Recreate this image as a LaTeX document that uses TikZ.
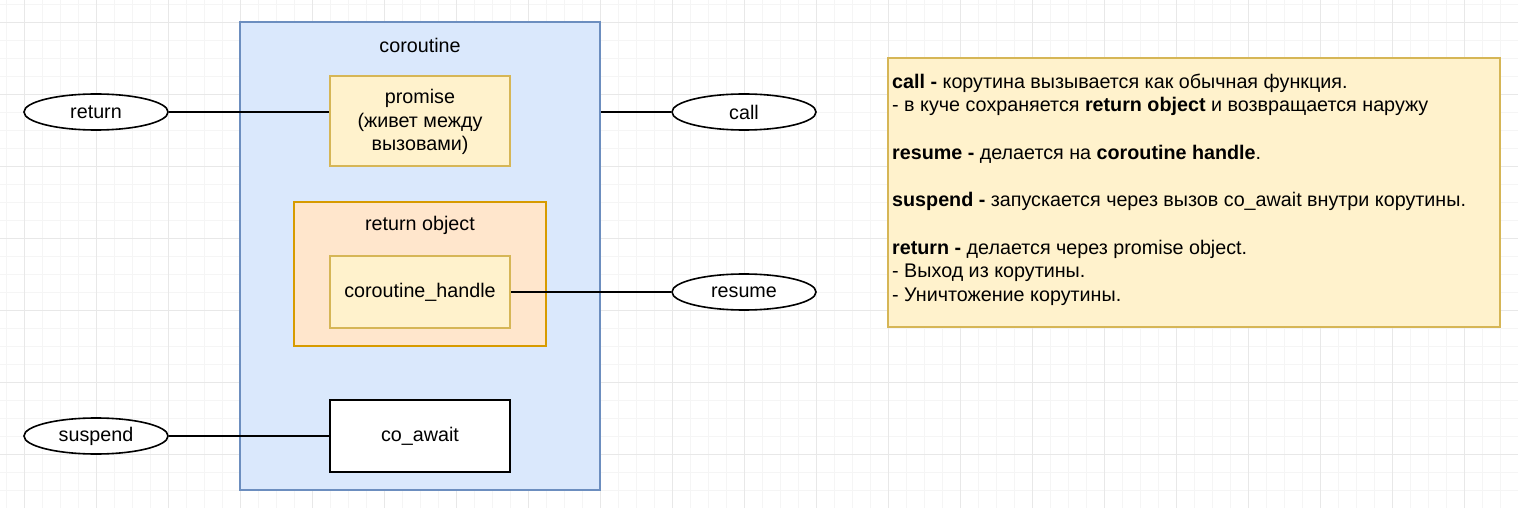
\documentclass[tikz,border=0pt]{standalone}
\usepackage{fontspec}
\setmainfont{Liberation Sans}
\usetikzlibrary{shapes.geometric}
\definecolor{bluefill}{HTML}{DAE8FC}
\definecolor{bluedraw}{HTML}{6C8EBF}
\definecolor{yelfill}{HTML}{FFF2CC}
\definecolor{yeldraw}{HTML}{D6B656}
\definecolor{orfill}{HTML}{FFE6CC}
\definecolor{ordraw}{HTML}{D79B00}
\definecolor{gridminor}{HTML}{F5F5F5}
\definecolor{gridmajor}{HTML}{E8E8E8}
\tikzset{
  box/.style={rectangle, line width=1.6bp, inner sep=0pt, align=center},
  bluebox/.style={box, draw=bluedraw, fill=bluefill},
  yelbox/.style={box, draw=yeldraw, fill=yelfill},
  orbox/.style={box, draw=ordraw, fill=orfill},
  plainbox/.style={box, draw=black, fill=white},
  oval/.style={ellipse, draw=black, fill=white, line width=1.6bp, inner sep=0pt,
    minimum width=144bp, minimum height=36bp},
  conn/.style={draw=black, line width=1.8bp},
  lbl/.style={inner sep=0pt},
  gridline/.style={line width=1bp}
}
\begin{document}
\begin{tikzpicture}[x=1bp, y=-1bp, font=\fontsize{19.8}{23.8}\selectfont]
\useasboundingbox (0,0) rectangle (1518,508);
\fill[white] (0,0) rectangle (1518,508);
% grid
\foreach \gx in {6,24,...,1518} \draw[gridminor, gridline] (\gx+0.5,0) -- (\gx+0.5,508);
\foreach \gy in {4,22,...,508} \draw[gridminor, gridline] (0,\gy+0.5) -- (1518,\gy+0.5);
\foreach \gx in {24,96,...,1518} \draw[gridmajor, gridline] (\gx+0.5,0) -- (\gx+0.5,508);
\foreach \gy in {22,94,...,508} \draw[gridmajor, gridline] (0,\gy+0.5) -- (1518,\gy+0.5);

% coroutine container
\node[bluebox, minimum width=360bp, minimum height=468bp] (cor) at (420,256) {};
\node[lbl] (corlbl) at (420,45) {coroutine};

\node[yelbox, minimum width=180bp, minimum height=90bp] (prom) at (420,121) {};
\node[lbl, align=center, anchor=base] (promtext) at (420,150.8)
  {promise\\(живет между\\вызовами)};

\node[orbox, minimum width=252bp, minimum height=144bp] (retobj) at (420,274) {};
\node[lbl] (retobjlbl) at (420,225) {return object};

\node[yelbox, minimum width=180bp, minimum height=72bp] (handle) at (420,292) {coroutine\_handle};

\node[plainbox, minimum width=180bp, minimum height=72bp] (coaw) at (420,436) {co\_await};

% ovals
\node[oval] (eret) at (96,112) {return};
\node[oval] (esusp) at (96,436) {suspend};
\node[oval] (ecall) at (744,112) {call};
\node[oval] (eres) at (744,292) {resume};

% note
\node[yelbox, minimum width=612bp, minimum height=269bp] (note) at (1194,192.5) {};
\node[lbl, align=left, anchor=base west] (notetext) at (892,301.5)
  {\textbf{call -} корутина вызывается как обычная функция.\\
   - в куче сохраняется \textbf{return object} и возвращается наружу\\
   \mbox{}\\
   \textbf{resume -} делается на \textbf{coroutine handle}.\\
   \mbox{}\\
   \textbf{suspend -} запускается через вызов co\_await внутри корутины.\\
   \mbox{}\\
   \textbf{return -} делается через promise object.\\
   - Выход из корутины.\\
   - Уничтожение корутины.};

% connectors
\draw[conn] (eret.east) -- (eret.east -| prom.west);
\draw[conn] (ecall.west) -- (ecall.west -| cor.east);
\draw[conn] (handle.east) -- (eres.west);
\draw[conn] (esusp.east) -- (esusp.east -| coaw.west);
\end{tikzpicture}
\end{document}
